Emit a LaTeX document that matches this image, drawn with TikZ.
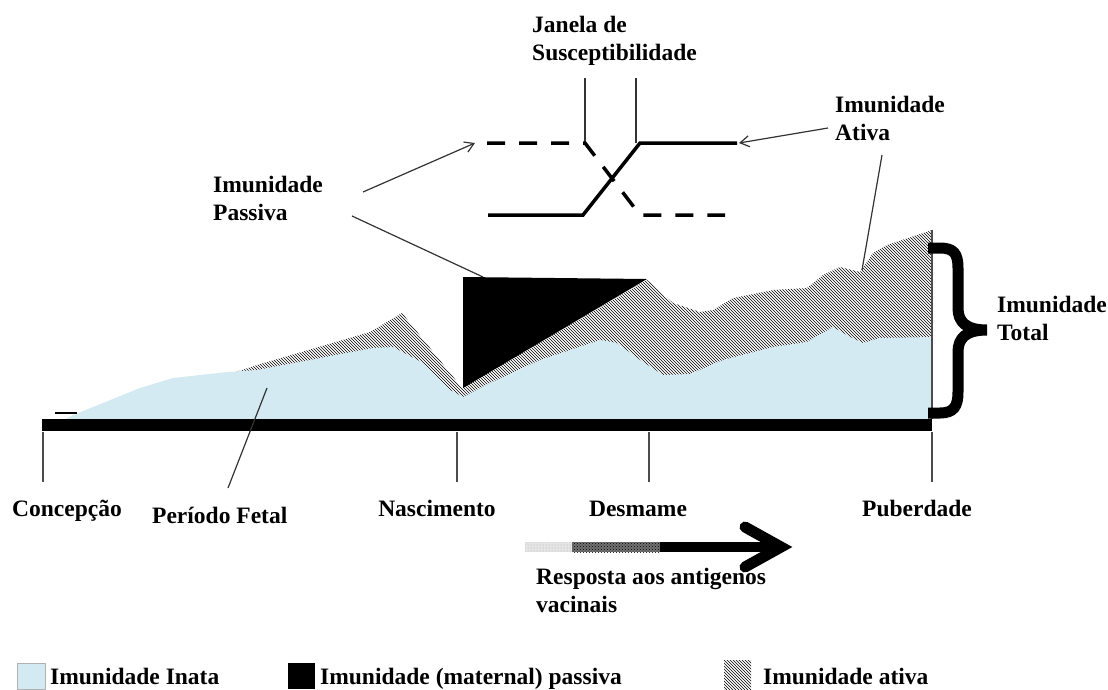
\documentclass[tikz,border=0pt]{standalone}
\usepackage{fontspec}
\setmainfont{Liberation Serif}
\usetikzlibrary{arrows.meta,patterns}
\definecolor{inata}{RGB}{212,234,243}
\tikzset{
  lbl/.style={font=\fontsize{23.5}{28}\selectfont\bfseries, inner sep=0pt, align=left},
  pointer/.style={line width=1.2pt, black!80},
  tick/.style={line width=1.6pt, black!70},
  curve/.style={line width=3.5pt},
}
\begin{document}
\begin{tikzpicture}[>={Straight Barb[length=9pt,width=11pt]}, x=1pt, y=-1pt]
\useasboundingbox (0,0) rectangle (1108,689);

% imunidade ativa (hachurada)
\fill[pattern=north west lines] (233,373) -- (257,365) -- (370,332) -- (402,313) -- (462,388) -- (647,280) -- (673,303) -- (700,312) -- (713,310) -- (733,298) -- (773,290) -- (807,288) -- (823,275) -- (840,267) -- (860,272) -- (873,253) -- (887,245) -- (932,230) -- (932,419) -- (233,419) -- cycle;

% imunidade inata
\fill[inata] (66,419) -- (73,415) -- (103,403) -- (140,388) -- (173,378) -- (227,372) -- (257,370) -- (373,348) -- (393,347) -- (423,363) -- (450,390) -- (463,397) -- (490,383) -- (540,360) -- (600,340) -- (617,343) -- (640,360) -- (663,375) -- (690,374) -- (723,360) -- (773,347) -- (807,342) -- (833,327) -- (850,337) -- (863,343) -- (880,338) -- (932,337) -- (932,419) -- cycle;

% imunidade passiva
\fill (463,277) -- (647,279) -- (463,388) -- cycle;

\draw[line width=2pt] (55,413) -- (77,413);

% eixo do tempo
\draw[line width=12pt] (42,425) -- (932,425);
\draw[tick] (932,230) -- (932,419);
\foreach \x/\lx/\txt [count=\i] in {43/67/Concepção, 457/437/Nascimento, 649/638/Desmame, 932/917/Puberdade}
{
    \draw[tick] (\x,432) -- (\x,482);
    \node[lbl, anchor=base] (marco\i) at (\lx,516) {\txt};
}
\node[lbl, anchor=base west] (fetal) at (152,523) {Período Fetal};
\draw[pointer] (267,388) -- (228,488);

% chave
\draw[line width=11pt] (928,248) -- (940,248) .. controls (954,248) and (958,254) .. (958,268) -- (958,308) .. controls (958,322) and (966,330) .. (987,330) .. controls (966,330) and (958,338) .. (958,352) -- (958,392) .. controls (958,406) and (954,413) .. (940,413) -- (928,413);
\node[lbl, anchor=north west] (total) at (997,296) {Imunidade\\Total};

% janela de susceptibilidade
\node[lbl, anchor=north west] (janela) at (532,16) {Janela de\\Susceptibilidade};
\draw[pointer] (585,78) -- (585,143);
\draw[pointer] (636,78) -- (636,143);
\draw[curve, dash pattern=on 18pt off 14pt] (487,143) -- (585,143) -- (640,215) -- (725,215);
\draw[curve] (488,215) -- (583,215) -- (640,143) -- (737,143);

\node[lbl, anchor=north west] (passiva) at (213,176) {Imunidade\\Passiva};
\draw[pointer, ->] (363,192) -- (475,143);
\draw[pointer] (352,216) -- (483,277);

\node[lbl, anchor=north west] (ativa) at (835,96) {Imunidade\\Ativa};
\draw[pointer, ->] (828,128) -- (739,143);
\draw[pointer] (882,155) -- (862,270);

% resposta vacinal
\fill[gray!20] (525,542) rectangle (572,552);
\fill[pattern=dots, pattern color=gray!70] (525,542) rectangle (572,552);
\fill[black!55] (572,542) rectangle (660,552);
\fill[pattern=crosshatch dots] (572,542) rectangle (660,552);
\fill (660,542) rectangle (782,552);
\draw[line width=11pt, line cap=round] (745,527) -- (781,547) -- (745,567);
\node[lbl, anchor=north west] (resposta) at (536,568) {Resposta aos antigenos\\vacinais};

% legenda
\filldraw[fill=inata, draw=gray!60] (17,663) rectangle (45,689);
\node[lbl, anchor=base west] (leginata) at (50,684) {Imunidade Inata};
\fill (288,663) rectangle (315,689);
\node[lbl, anchor=base west] (legpassiva) at (320,684) {Imunidade (maternal) passiva};
\fill[pattern=north west lines] (724,660) rectangle (751,689);
\node[lbl, anchor=base west] (legativa) at (763,684) {Imunidade ativa};

\end{tikzpicture}
\end{document}
